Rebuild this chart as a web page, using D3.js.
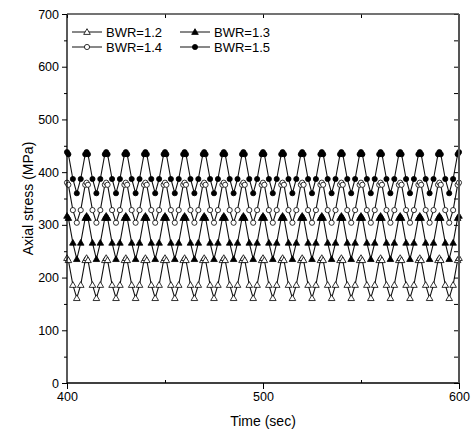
<!DOCTYPE html>
<html><head><meta charset="utf-8">
<script src="https://cdn.jsdelivr.net/npm/d3@7"></script>
<style>body{margin:0;background:#fff}svg{display:block}text{font-family:Arial,"Liberation Sans",sans-serif;fill:#000}</style>
</head><body><svg id="c" width="472" height="438"></svg>
<script>
// ---- data ----
const seriesNames = ["BWR=1.2", "BWR=1.3", "BWR=1.4", "BWR=1.5"];
const cyclePeakTimes = [400,410,420,430,440,450,460,470,480,490,500,510,520,530,540,550,560,570,580,590,600];
const cycleOffsets = [-0.7, 0, 0.7, 3, 5, 7];        // sec, relative to peak of each cycle
const bwr12 = [233, 237, 233, 186, 161, 186];          // MPa, one cycle
const bwr13 = [313, 317, 313, 266, 235, 266];
const bwr14 = [376, 380, 376, 328, 304, 328];
const bwr15 = [434, 438, 434, 387, 360, 387];
const xTicks = [400, 500, 600];
const xMinor = [450, 550];
const yTicks = [0, 100, 200, 300, 400, 500, 600, 700];
const yMinor = [50, 150, 250, 350, 450, 550, 650];
const markers = ["triOpen", "triFill", "circOpen", "circFill"];

const cycles = [bwr12, bwr13, bwr14, bwr15];
function build(cyc){
  const pts = [];
  cyclePeakTimes.forEach(t0 => cycleOffsets.forEach((o,i) => {
    const t = t0 + o;
    if (t >= 400 && t <= 600) pts.push({t, v: cyc[i]});
  }));
  return pts;
}
const data = cycles.map(build);

// ---- layout ----
const svg = d3.select("#c");
const L = 67, R = 459, T = 14, B = 383;
const x = d3.scaleLinear().domain([400, 600]).range([L, R]);
const y = d3.scaleLinear().domain([0, 700]).range([B, T]);

const g = svg.append("g");
const line = d3.line().x(d => x(d.t)).y(d => y(d.v));
data.forEach(s => {
  g.append("path").datum(s).attr("d", line).attr("fill","none").attr("stroke","#111").attr("stroke-width",1.1);
});
function drawMarker(sel, kind, cx, cy){
  const tri = kind.startsWith("tri");
  const open = kind.endsWith("Open");
  const sym = d3.symbol().type(tri ? d3.symbolTriangle : d3.symbolCircle).size(tri ? 19 : 21);
  sel.append("path").attr("d", sym()).attr("transform", `translate(${cx},${cy + (tri ? 0.5 : 0)})`)
    .attr("fill", open ? "#fff" : "#000").attr("stroke", "#000").attr("stroke-width", 0.8);
}
data.forEach((s, k) => {
  s.forEach(d => drawMarker(g, markers[k], x(d.t), y(d.v)));
});

// axes
const ax = svg.append("g");
ax.append("g").attr("transform", `translate(0,${B})`)
  .call(d3.axisBottom(x).tickValues(xTicks).tickSize(6).tickPadding(3).tickFormat(d3.format("d")))
  .call(a => a.select(".domain").remove());
ax.append("g").attr("transform", `translate(0,${B})`)
  .call(d3.axisTop(x).tickValues(xMinor).tickSize(3).tickFormat(""))
  .call(a => a.select(".domain").remove());
ax.append("g").attr("transform", `translate(${L},0)`)
  .call(d3.axisLeft(y).tickValues(yTicks).tickSize(5).tickPadding(3).tickFormat(d3.format("d")))
  .call(a => a.select(".domain").remove());
ax.append("g").attr("transform", `translate(${L},0)`)
  .call(d3.axisLeft(y).tickValues(yMinor).tickSize(3).tickFormat(""))
  .call(a => a.select(".domain").remove());
ax.append("g").attr("transform", `translate(${R},0)`)
  .call(d3.axisLeft(y).tickValues(yTicks.concat(yMinor)).tickSize(5).tickFormat(""))
  .call(a => a.select(".domain").remove());
ax.append("g").attr("transform", `translate(0,${T})`)
  .call(d3.axisBottom(x).tickValues(xTicks.concat(xMinor)).tickSize(4).tickFormat(""))
  .call(a => a.select(".domain").remove());
ax.selectAll("text").style("font-size","12.5px").attr("fill","#000");
ax.selectAll("line").attr("stroke","#000");

// frame
svg.append("line").attr("x1",L).attr("x2",R).attr("y1",B).attr("y2",B).attr("stroke","#000").attr("stroke-width",1.3);
svg.append("line").attr("x1",L).attr("x2",L).attr("y1",T).attr("y2",B).attr("stroke","#000").attr("stroke-width",1.3);
svg.append("line").attr("x1",L).attr("x2",R).attr("y1",T).attr("y2",T).attr("stroke","#444").attr("stroke-width",1.3);
svg.append("line").attr("x1",R).attr("x2",R).attr("y1",T).attr("y2",B).attr("stroke","#555").attr("stroke-width",2);

// axis titles
svg.append("text").attr("x", (L+R)/2).attr("y", 426).attr("text-anchor","middle").style("font-size","14px").text("Time (sec)");
svg.append("text").attr("transform", `translate(33,${(T+B)/2}) rotate(-90)`).attr("text-anchor","middle").style("font-size","14px").text("Axial stress (MPa)");

// legend
const legPos = [[72,32],[180,32],[72,47],[180,47]];
seriesNames.forEach((n,k) => {
  const [lx, ly] = legPos[k];
  svg.append("line").attr("x1",lx).attr("x2",lx+30).attr("y1",ly).attr("y2",ly).attr("stroke","#111").attr("stroke-width",1);
  drawMarker(svg, markers[k], lx+15, ly);
  svg.append("text").attr("x", lx+34).attr("y", ly+4.5).style("font-size","13px").text(n);
});
</script></body></html>
